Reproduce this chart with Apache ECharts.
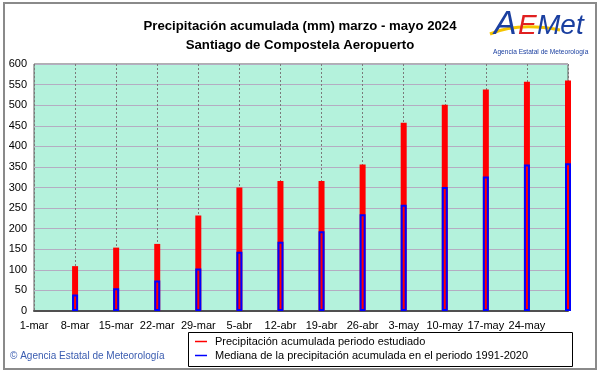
<!DOCTYPE html>
<html><head><meta charset="utf-8">
<script src="https://cdn.jsdelivr.net/npm/echarts@6/dist/echarts.min.js"></script>
<style>html,body{margin:0;padding:0;background:#fff}#c{width:601px;height:374px}</style>
</head><body><div id="c"></div>
<script>
const categories = ['1-mar','8-mar','15-mar','22-mar','29-mar','5-abr','12-abr','19-abr','26-abr','3-may','10-may','17-may','24-may','31-may'];
const precipEstudiado = [109,154,163,232,300,316,316,356,457,501,538,557,560];
const medianaPrecip = [40,55,74,103,144,168,194,235,258,301,327,356,359];
const titleLines = ['Precipitación acumulada (mm) marzo - mayo 2024','Santiago de Compostela Aeropuerto'];
const legendNames = ['Precipitación acumulada periodo estudiado','Mediana de la precipitación acumulada en el periodo 1991-2020'];
const FONT = '"Liberation Sans", Arial, sans-serif';

const chart = echarts.init(document.getElementById('c'), null, {renderer:'canvas'});
chart.setOption({
  animation:false,
  backgroundColor:'#ffffff',
  title:{text:titleLines.join('\n'), left:295, textAlign:'center', top:12,
    textStyle:{fontFamily:FONT,fontSize:13.2,fontWeight:'bold',color:'#000',lineHeight:19}},
  grid:{left:34, right:33, top:64, bottom:63, show:true, backgroundColor:'#b4f2dc', borderColor:'#606060', borderWidth:1},
  xAxis:{type:'category', data:categories, boundaryGap:false,
    axisLine:{show:true,lineStyle:{color:'#505050',width:2}}, axisTick:{show:false},
    axisLabel:{interval:0, margin:9, color:'#000', fontFamily:FONT, fontSize:11,
      formatter:(v,i)=> i===categories.length-1 ? '' : v},
    splitLine:{show:true, lineStyle:{color:'#7a7a7a', type:[2,2], width:1}}},
  yAxis:{type:'value', min:0, max:600, interval:50,
    axisLine:{show:false}, axisTick:{show:false},
    axisLabel:{margin:7, color:'#000', fontFamily:FONT, fontSize:11},
    splitLine:{show:true, lineStyle:{color:'#b4adc2', width:1}}},
  legend:{show:true, orient:'vertical', left:195, top:336, itemGap:3, itemWidth:12, itemHeight:1.5,
    icon:'rect', textStyle:{fontFamily:FONT,fontSize:11,color:'#000',padding:[0,0,0,3]}, padding:0,
    data:[{name:legendNames[0], itemStyle:{color:'#ff0000',borderWidth:0}},
          {name:legendNames[1], itemStyle:{color:'#0000ff',borderWidth:0}}]},
  series:[
    {name:legendNames[0], type:'bar', barWidth:6, clip:false, z:2,
     itemStyle:{color:'#ff0000'},
     data:precipEstudiado.map((v,i)=>[i+1,v])},
    {name:legendNames[1], type:'bar', barWidth:6, barGap:'-100%', clip:false, z:3,
     itemStyle:{color:'#ff0000', borderColor:'#0000ff', borderWidth:2},
     data:medianaPrecip.map((v,i)=>[i+1,v])}
  ],
  graphic:[
    {type:'rect', shape:{x:4,y:3,width:592,height:366}, style:{fill:'none',stroke:'#8a8a8a',lineWidth:2}, silent:true},
    {type:'rect', shape:{x:188.5,y:332.5,width:384,height:34}, style:{fill:'none',stroke:'#000',lineWidth:1}, z:-1},
    {type:'text', left:10, top:351, style:{text:'© Agencia Estatal de Meteorología', font:'10px '+FONT, fill:'#3a5cb0'}},
    {type:'bezierCurve', shape:{x1:490,y1:34,cpx1:518,cpy1:22,x2:560,y2:30}, style:{stroke:'#f5c400',lineWidth:3,fill:'none'}},
    {type:'text', left:494, top:8, style:{text:'A', font:'italic 34px '+FONT, fill:'#1a3fa0'}},
    {type:'text', left:518, top:12, style:{text:'E', font:'italic 28px '+FONT, fill:'#e02020'}},
    {type:'text', left:537, top:12, style:{text:'Met', font:'italic 28px '+FONT, fill:'#1a3fa0'}},
    {type:'text', left:493, top:49, style:{text:'Agencia Estatal de Meteorología', font:'6.6px '+FONT, fill:'#1a3fa0'}}
  ]
});
</script></body></html>
